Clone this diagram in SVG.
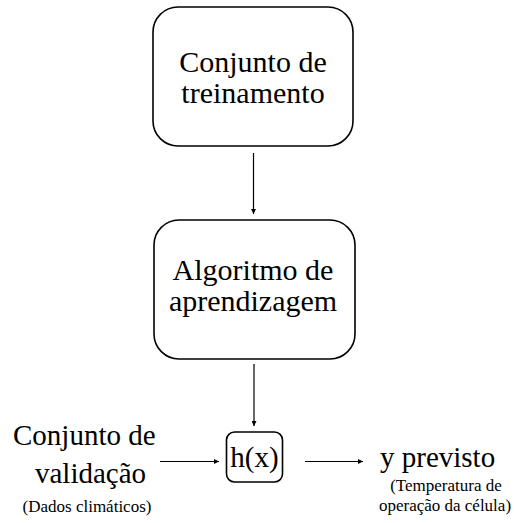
<svg xmlns="http://www.w3.org/2000/svg" width="514" height="523" viewBox="0 0 514 523">
<style>
.box{fill:#fff;stroke:#000;stroke-width:1.6}
.t{font-family:"Liberation Serif","Times New Roman",serif;fill:#000}
.big{font-size:30px}
.mid{font-size:29px}
.sm{font-size:17px}
.c{stroke:#000;stroke-width:1.2;fill:none}
</style>
<defs>
<marker id="ah" viewBox="0 0 6 6" refX="6" refY="3" markerWidth="5" markerHeight="5" markerUnits="userSpaceOnUse" orient="auto">
<path d="M0,0 L6,3 L0,6 z" fill="#000"/>
</marker>
</defs>
<rect width="514" height="523" fill="#fff"/>
<g id="treinamento">
<rect class="box" x="153" y="7" width="200" height="139" rx="25"/>
<text class="t big" x="253" y="72" text-anchor="middle">Conjunto de</text>
<text class="t big" x="253" y="103" text-anchor="middle">treinamento</text>
</g>
<g id="algoritmo">
<rect class="box" x="154" y="220" width="201" height="139" rx="25"/>
<text class="t big" x="253" y="280" text-anchor="middle">Algoritmo de</text>
<text class="t big" x="253" y="311" text-anchor="middle">aprendizagem</text>
</g>
<g id="hx">
<rect class="box" x="226.5" y="432" width="56" height="50" rx="8"/>
<text class="t mid" x="254.5" y="467" text-anchor="middle">h(x)</text>
</g>
<g id="validacao">
<text class="t mid" x="13" y="445">Conjunto de</text>
<text class="t mid" x="35" y="483">validação</text>
<text class="t sm" x="87" y="512" text-anchor="middle">(Dados climáticos)</text>
</g>
<g id="previsto">
<text class="t mid" x="380" y="467">y previsto</text>
<text class="t sm" x="446" y="491" text-anchor="middle">(Temperatura de</text>
<text class="t sm" x="445" y="511" text-anchor="middle">operação da célula)</text>
</g>
<g id="connectors">
<line class="c" x1="253.5" y1="153" x2="253.5" y2="214" marker-end="url(#ah)"/>
<line class="c" x1="254" y1="364" x2="254" y2="426" marker-end="url(#ah)"/>
<line class="c" x1="160" y1="461.5" x2="219" y2="461.5" marker-end="url(#ah)"/>
<line class="c" x1="305" y1="461.5" x2="363" y2="461.5" marker-end="url(#ah)"/>
</g>
</svg>
